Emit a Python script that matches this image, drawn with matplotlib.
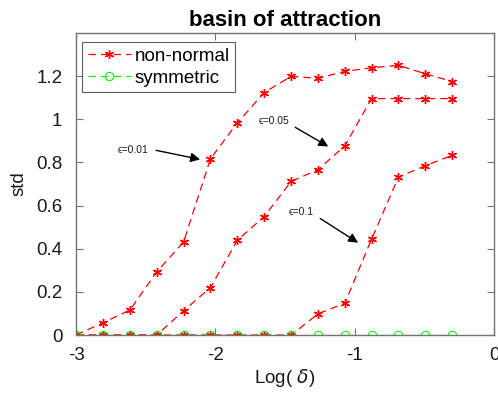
import matplotlib
matplotlib.use("Agg")
import matplotlib.pyplot as plt

plt.rcParams['font.family'] = ['Liberation Sans', 'DejaVu Sans']

log_delta = [-3.0, -2.807, -2.614, -2.421, -2.229, -2.036, -1.843, -1.65,
             -1.457, -1.264, -1.071, -0.879, -0.686, -0.493, -0.3]
nn_eps001 = [0, 0.057, 0.116, 0.293, 0.431, 0.817, 0.983, 1.124,
             1.199, 1.19, 1.222, 1.239, 1.25, 1.211, 1.175]
nn_eps005 = [0, 0, 0, 0, 0.112, 0.22, 0.439, 0.549,
             0.712, 0.766, 0.877, 1.096, 1.096, 1.096, 1.096]
nn_eps01 = [0, 0, 0, 0, 0, 0, 0, 0,
            0, 0.098, 0.147, 0.445, 0.732, 0.785, 0.833]
sym = [0] * 15

fig = plt.figure(figsize=(4.98, 4.0), dpi=100)
ax = fig.add_axes([0.153, 0.1625, 0.839, 0.755])

red = (1, 0, 0)
green = (0, 1, 0)
asterisk = (6, 2, 0)
kw_red = dict(color=red, linestyle='--', dashes=(6, 4), linewidth=0.9,
              marker=asterisk, markersize=6.5, markeredgewidth=1.0)
kw_green = dict(color=green, linestyle='--', dashes=(6, 4), linewidth=0.9,
                marker='o', markersize=6, markerfacecolor='none',
                markeredgewidth=0.8)

ax.plot(log_delta, nn_eps001, label='non-normal', **kw_red)
ax.plot(log_delta, nn_eps005, **kw_red)
ax.plot(log_delta, nn_eps01, **kw_red)
ax.plot(log_delta, sym, label='symmetric', **kw_green)

ax.set_xlim(-3, 0)
ax.set_ylim(0, 1.4)
ax.set_xticks([-3, -2, -1, 0])
ax.set_xticklabels(['-3', '-2', '-1', '0'])
ax.set_yticks([0, 0.2, 0.4, 0.6, 0.8, 1.0, 1.2])
ax.set_yticklabels(['0', '0.2', '0.4', '0.6', '0.8', '1', '1.2'])

axc = '0.45'
for s in ax.spines.values():
    s.set_color(axc)
    s.set_linewidth(1.0)
ax.tick_params(direction='in', length=5, width=0.8, color=axc,
               labelsize=13.5, labelcolor='0.1', top=True, right=True)
ax.tick_params(axis='x', pad=9)
ax.tick_params(axis='y', pad=10)

ax.set_xlabel('Log( $\\delta$)', fontsize=13.5, color='0.1', labelpad=2)
ax.set_ylabel('std', fontsize=13.5, color='0.1', labelpad=6)
ax.set_title('basin of attraction', fontsize=16, fontweight='bold', pad=5)

leg = ax.legend(loc='upper left', fontsize=13.5, frameon=True, fancybox=False,
                edgecolor='0.2', borderpad=0.3, handlelength=2.3,
                handletextpad=0.2, labelspacing=0.25,
                bbox_to_anchor=(0.014, 0.97), borderaxespad=0.0)
leg.get_frame().set_linewidth(0.8)

arrow = dict(arrowstyle='-|>', color='black', lw=1.0, mutation_scale=14,
             shrinkA=0, shrinkB=0)
notes = [
    ('\u03f5=0.01', (-2.70, 0.856), (-2.426, 0.856), (-2.11, 0.814)),
    ('\u03f5=0.05', (-1.693, 0.99), (-1.428, 0.963), (-1.19, 0.874)),
    ('\u03f5=0.1', (-1.478, 0.572), (-1.248, 0.54), (-0.976, 0.428)),
]
for txt, tpos, start, tip in notes:
    ax.text(tpos[0], tpos[1], txt, fontsize=7.5, color='0.1',
            va='center', ha='left', family=['Liberation Sans', 'DejaVu Sans'])
    ax.annotate('', xy=tip, xytext=start, arrowprops=arrow)

fig.savefig('out.png', dpi=100)
